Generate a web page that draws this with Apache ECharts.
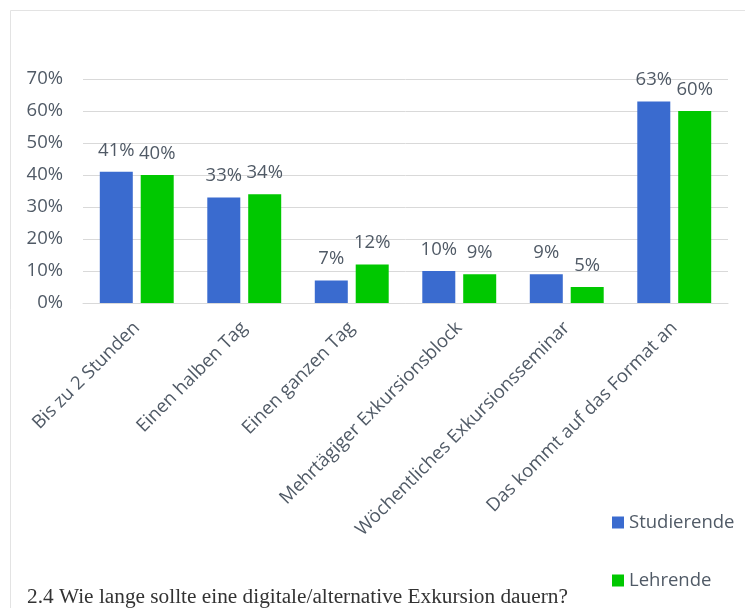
<!DOCTYPE html>
<html>
<head>
<meta charset="utf-8">
<script src="https://cdn.jsdelivr.net/npm/echarts@6/dist/echarts.min.js"></script>
<style>
  html, body { margin: 0; padding: 0; background: #fff; }
  #chart { width: 745px; height: 608px; }
</style>
</head>
<body>
<div id="chart"></div>
<script>
  // Kategorien und Werte (in %)
  var categories = ['Bis zu 2 Stunden', 'Einen halben Tag', 'Einen ganzen Tag',
    'Mehrtägiger Exkursionsblock', 'Wöchentliches Exkursionsseminar', 'Das kommt auf das Format an'];
  var studierende = [41, 33, 7, 10, 9, 63];
  var lehrende = [40, 34, 12, 9, 5, 60];
  var seriesNames = ['Studierende', 'Lehrende'];
  var caption = '2.4 Wie lange sollte eine digitale/alternative Exkursion dauern?';

  var textColor = '#505a66';
  var font = '"Open Sans", "Noto Sans", sans-serif';

  var myChart = echarts.init(document.getElementById('chart'));
  myChart.setOption({
    animation: false,
    color: ['#3a6bcf', '#00c800'],
    textStyle: { fontFamily: font },
    grid: { left: 83, right: 17, top: 79, bottom: 305, containLabel: false },
    legend: {
      orient: 'vertical',
      left: 607,
      top: 508,
      itemGap: 39,
      itemWidth: 12,
      itemHeight: 12,
      icon: 'rect',
      textStyle: { color: textColor, fontSize: 18.5, fontFamily: font },
      data: seriesNames
    },
    xAxis: {
      type: 'category',
      data: categories,
      axisLine: { show: true, lineStyle: { color: '#d9d9d9' } },
      axisTick: { show: false },
      axisLabel: {
        rotate: 45,
        interval: 0,
        margin: 22,
        color: textColor,
        fontSize: 18.5,
        fontFamily: font
      }
    },
    yAxis: {
      type: 'value',
      min: 0,
      max: 70,
      interval: 10,
      axisLine: { show: false },
      axisTick: { show: false },
      splitLine: { lineStyle: { color: '#d9d9d9' } },
      axisLabel: {
        formatter: '{value}%',
        color: textColor,
        fontSize: 18.5,
        margin: 20,
        fontFamily: font
      }
    },
    series: [
      {
        name: seriesNames[0],
        type: 'bar',
        data: studierende,
        barWidth: 33,
        barGap: '24%',
        label: { show: true, position: 'top', distance: 12, formatter: '{c}%', color: textColor, fontSize: 18.5, fontFamily: font }
      },
      {
        name: seriesNames[1],
        type: 'bar',
        data: lehrende,
        barWidth: 33,
        barGap: '24%',
        label: { show: true, position: 'top', distance: 12, formatter: '{c}%', color: textColor, fontSize: 18.5, fontFamily: font }
      }
    ],
    graphic: [
      {
        type: 'rect',
        silent: true,
        shape: { x: 10.5, y: 10.5, width: 760, height: 640 },
        style: { fill: 'none', stroke: '#e3e3e3', lineWidth: 1 }
      },
      {
        type: 'text',
        left: 27,
        top: 587,
        style: {
          text: caption,
          fill: '#333',
          font: '21.3px "Liberation Serif", "DejaVu Serif", serif'
        }
      }
    ]
  });
</script>
</body>
</html>
